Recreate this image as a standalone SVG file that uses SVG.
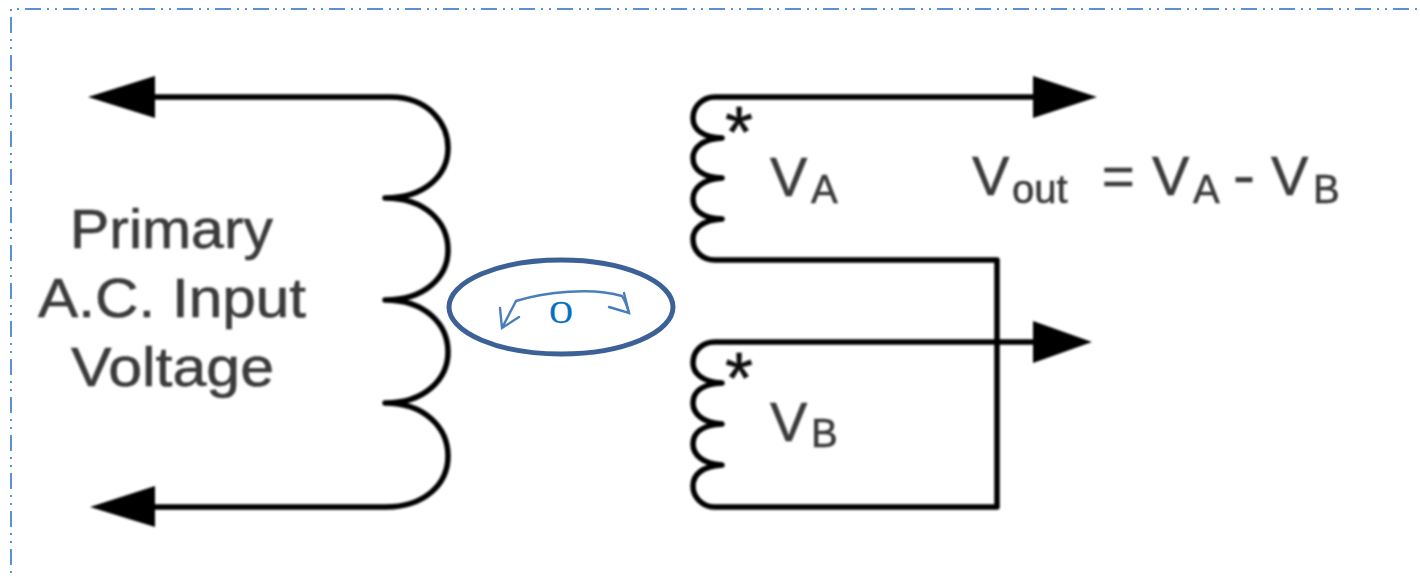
<svg xmlns="http://www.w3.org/2000/svg" width="1420" height="577" viewBox="0 0 1420 577">
<defs>
<filter id="b" x="-10%" y="-10%" width="120%" height="120%"><feGaussianBlur stdDeviation="1.3"/></filter>
<filter id="t" x="-10%" y="-20%" width="120%" height="140%"><feGaussianBlur stdDeviation="1.1"/></filter>
</defs>
<style>
.w{fill:none;stroke:#000;stroke-width:5.5;stroke-linejoin:round}
.h{fill:#000;stroke:none}
.f{fill:none;stroke:#5b8fd6;stroke-width:2;stroke-dasharray:16 6 2 6 2 6;stroke-dashoffset:30}
.l{font-family:"Liberation Sans",Arial,sans-serif;fill:#3a3a3a;stroke:#3a3a3a;stroke-width:0.6}
.m{font-size:55px}.n{font-size:56px}.s{font-size:40px}
.a{fill:none;stroke:#4a7ebb;stroke-width:2.4;stroke-linecap:round;stroke-linejoin:miter}
</style>
<rect width="1420" height="577" fill="#fff"/>
<g id="frame">
<path class="f" d="M17 9H1420"/>
<path class="f" d="M11 9V577"/>
</g>
<g id="connectors" filter="url(#b)">
<path class="w" d="M150 97H390C430 97 448 125 448 148C448 175 425 198 385 198C425 198 448 222 448 250C448 277 425 300 385 300C425 300 448 324 448 352C448 379 425 403 385 403C425 403 448 428 448 456C448 484 425 507 385 507H150"/>
<path class="w" d="M1040 97H715C702 97 693 107 693 118C693 129 702 137 722 138C702 139 693 148 693 158C693 169 702 177 722 178C702 179 693 189 693 199C693 210 702 218 722 219C702 220 693 229 693 239C693 251 702 260 715 260H997V507H715C702 507 693 497 693 486C693 475 702 466 722 465C702 464 693 454 693 444C693 433 702 425 722 424C702 423 693 413 693 403C693 392 702 384 722 383C702 382 693 373 693 363C693 351 702 342 715 342H1040"/>
<polygon class="h" points="88,97 155,76 155,118"/>
<polygon class="h" points="90,507 155,486 155,527"/>
<polygon class="h" points="1097,97 1033,76 1033,118"/>
<polygon class="h" points="1092,342 1033,321 1033,363"/>
</g>
<g id="labels" filter="url(#t)">
<text class="l m" x="70" y="248" textLength="203" lengthAdjust="spacingAndGlyphs">Primary</text>
<text class="l m" x="38" y="317" textLength="268" lengthAdjust="spacingAndGlyphs">A.C. Input</text>
<text class="l m" x="71" y="386" textLength="203" lengthAdjust="spacingAndGlyphs">Voltage</text>
<text class="l" x="725" y="157" font-size="72" style="fill:#111;stroke:#111">*</text>
<text class="l" x="725" y="403" font-size="72" style="fill:#111;stroke:#111">*</text>
<text class="l n" x="770" y="196">V</text><text class="l s" x="811" y="203">A</text>
<text class="l n" x="770" y="441">V</text><text class="l s" x="811" y="447">B</text>
<text class="l n" x="972" y="195">V</text><text class="l s" x="1012" y="203">out</text>
<text class="l n" x="1102" y="195">=</text>
<text class="l n" x="1152" y="195">V</text><text class="l s" x="1193" y="203">A</text>
<text class="l n" x="1233" y="195" textLength="22" lengthAdjust="spacingAndGlyphs">-</text>
<text class="l n" x="1271" y="195">V</text><text class="l s" x="1313" y="203">B</text>
</g>
<g id="rotation">
<ellipse cx="561" cy="307" rx="112" ry="47" fill="#fff" stroke="#3b6196" stroke-width="5"/>
<path class="a" d="M516 301C545 292 592 287 622 296C625 300 627 306 629 313"/>
<path class="a" d="M516 301L502 328M500 308L502 328L519 317"/>
<path class="a" d="M609 307L629 313L624 293"/>
<text x="561" y="323" text-anchor="middle" font-family="Liberation Serif,serif" font-size="32" fill="#0070c0" stroke="#0070c0" stroke-width="0.5">O</text>
</g>
</svg>
